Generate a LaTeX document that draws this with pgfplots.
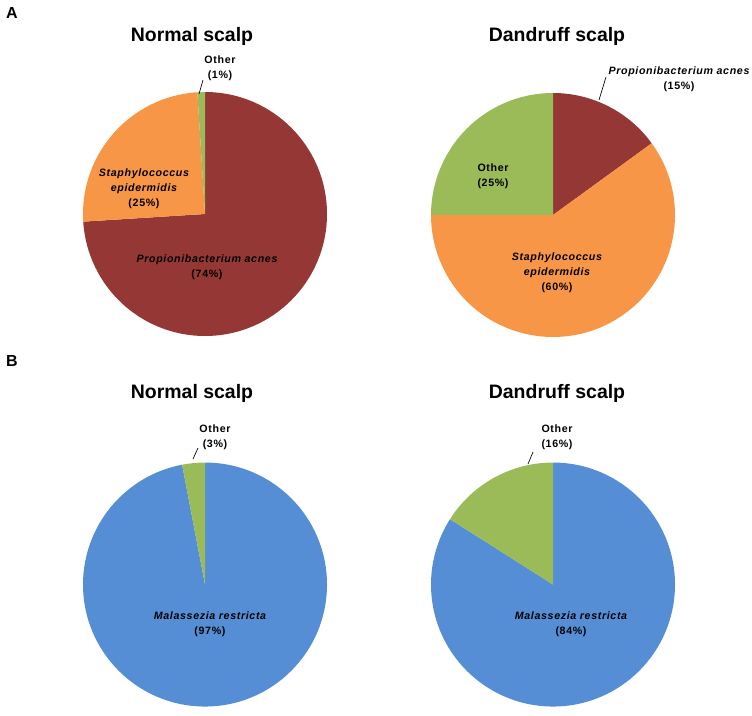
\documentclass[border=0pt]{standalone}
\usepackage{pgfplots}
\pgfplotsset{compat=1.18}
\usepackage{fontspec}
\setmainfont{Liberation Sans}
\newfontfamily\labfont[LetterSpace=6]{Liberation Sans}
\definecolor{pred}{HTML}{953735}
\definecolor{porange}{HTML}{F79646}
\definecolor{pgreen}{HTML}{9BBB59}
\definecolor{pblue}{HTML}{558ED5}
\gdef\R{91.5pt}
% \slice{cumulative start %}{share %}{colour}: clockwise from 12 o'clock
\newcommand\slice[3]{\fill[#3] (axis cs:0,0) -- (axis cs:{cos(90-3.6*(#1))},{sin(90-3.6*(#1))}) arc[start angle={90-3.6*(#1)}, end angle={90-3.6*((#1)+(#2))}, radius=\R] -- cycle;}
\pgfplotsset{pie/.style={hide axis, scale only axis, width=183pt, height=183pt,
  xmin=-1, xmax=1, ymin=-1, ymax=1, anchor=origin, clip=false}}
\begin{document}
\begin{tikzpicture}
\path[use as bounding box] (0,0) rectangle (564pt,-537pt);
% A: Normal scalp
\begin{axis}[pie, at={(153.75pt,-160.5pt)}]
\slice{0}{74}{pred}
\slice{74}{25}{porange}
\slice{99}{1}{pgreen}
\end{axis}
% A: Dandruff scalp
\begin{axis}[pie, at={(414.75pt,-161.25pt)}]
\slice{0}{15}{pred}
\slice{15}{60}{porange}
\slice{75}{25}{pgreen}
\end{axis}
% B: Normal scalp
\begin{axis}[pie, at={(153.75pt,-438.4pt)}]
\slice{0}{97}{pblue}
\slice{97}{3}{pgreen}
\end{axis}
% B: Dandruff scalp
\begin{axis}[pie, at={(414.75pt,-438.4pt)}]
\slice{0}{84}{pblue}
\slice{84}{16}{pgreen}
\end{axis}
\begin{scope}[x=0.75pt, y=-0.75pt]
\tikzset{ttl/.style={font=\fontsize{14.6}{16}\selectfont\bfseries, inner sep=0pt},
  lab/.style={font=\labfont\fontsize{8}{11.2}\selectfont\bfseries, align=center, inner sep=0pt},
  lead/.style={black, line width=0.5pt}}
\node[font=\fontsize{12}{14}\selectfont\bfseries, inner sep=0pt] at (12,13) {A};
\node[font=\fontsize{12}{14}\selectfont\bfseries, inner sep=0pt] at (12,361) {B};
\node[ttl] at (192,36) {Normal scalp};
\node[ttl] at (557,36) {Dandruff scalp};
\node[ttl] at (192,393) {Normal scalp};
\node[ttl] at (557,393) {Dandruff scalp};
% pie 1 labels
\node[lab] at (220,68) {Other\\(1\%)};
\draw[lead] (199,94) -- (203,80);
\node[lab] at (144,189) {\itshape Staphylococcus\\\itshape epidermidis\\(25\%)};
\node[lab] at (207,267) {\itshape Propionibacterium acnes\\(74\%)};
% pie 2 labels
\node[lab] at (679,79) {\itshape Propionibacterium acnes\\(15\%)};
\draw[lead] (599,100) -- (606,77);
\node[lab] at (493,176) {Other\\(25\%)};
\node[lab] at (557,273) {\itshape Staphylococcus\\\itshape epidermidis\\(60\%)};
% pie 3 labels
\node[lab] at (215,437) {Other\\(3\%)};
\draw[lead] (193,459) -- (198,448);
\node[lab] at (210,624) {\itshape Malassezia restricta\\(97\%)};
% pie 4 labels
\node[lab] at (557,437) {Other\\(16\%)};
\draw[lead] (528,464) -- (533,452);
\node[lab] at (571,624) {\itshape Malassezia restricta\\(84\%)};
\end{scope}
\end{tikzpicture}
\end{document}
